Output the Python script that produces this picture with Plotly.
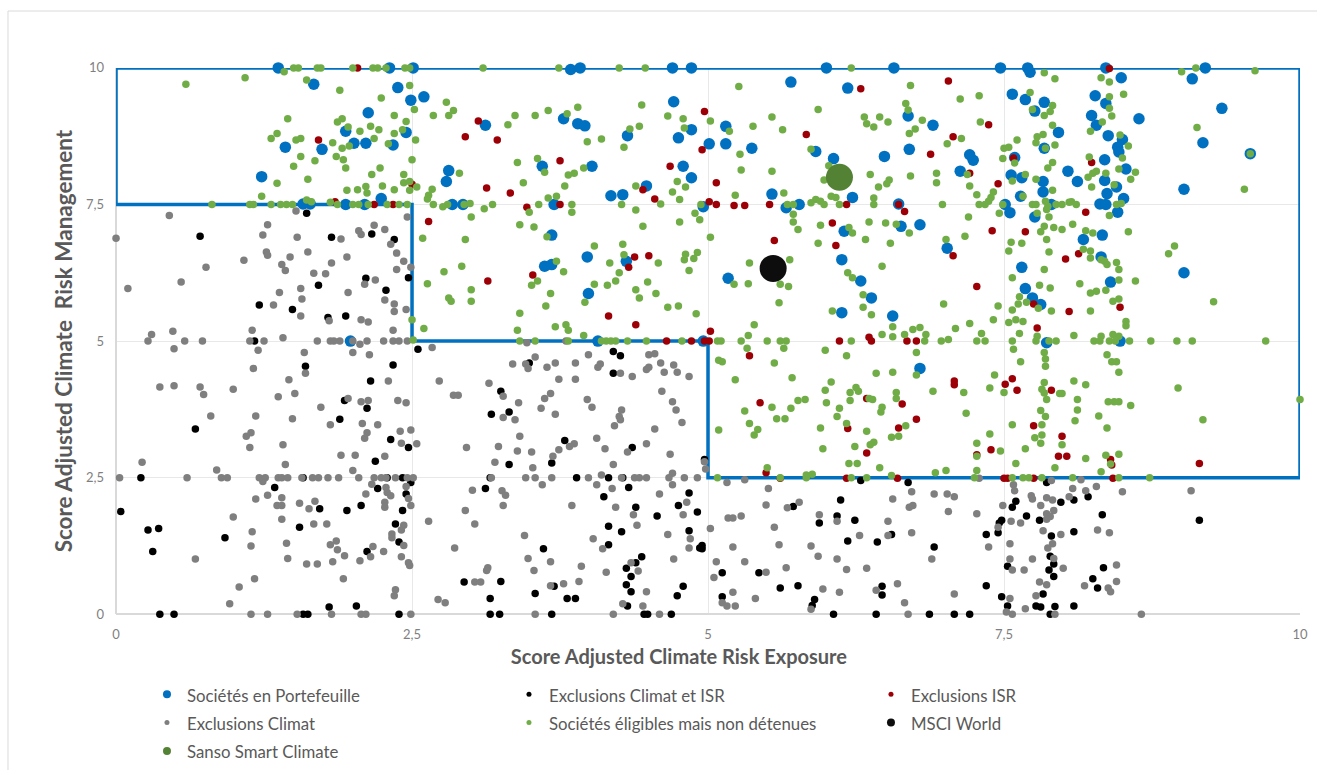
import plotly.graph_objects as go

X_TICKS = [0, 2.5, 5, 7.5, 10]
X_LABELS = ["0", "2,5", "5", "7,5", "10"]
Y_TICKS = [0, 2.5, 5, 7.5, 10]
Y_LABELS = ["0", "2,5", "5", "7,5", "10"]
FRAME_X = [0, 0, 10, 10, 5, 5, 2.5, 2.5, 0]
FRAME_Y = [7.5, 10, 10, 2.5, 2.5, 5, 5, 7.5, 7.5]

PORTEFEUILLE = [
(1.37,10),(3.84,9.97),(3.92,10),(2.31,10),(2.51,10),(4.70,10),(4.86,10),(1.67,9.70),(2.38,9.64),(2.60,9.47),(2.49,9.41),(2.13,9.18),(4.71,9.38),(3.78,9.07),(3.90,8.98),(3.96,8.94),(3.12,8.95),(4.86,8.87),(4.75,8.72),(4.32,8.76),(1.94,8.84),(2.45,8.82),(1.43,8.55),(1.74,8.51),(2.01,8.62),(2.11,8.62),(2.34,8.59),(3.60,8.20),(4.02,8.20),(4.79,8.20),(4.86,7.99),(1.23,8.01),(2.81,8.12),(2.79,7.92),(4.48,7.84),(4.18,7.66),(4.28,7.68),(2.24,7.61),(1.58,7.51),(1.64,7.51),(1.94,7.5),(2.10,7.5),(2.84,7.5),(2.93,7.5),(3.70,7.5),(3.68,6.94),(3.98,6.54),(3.62,6.37),(3.68,6.40),(4.31,6.46),(3.99,5.87),(1.98,5.0),(4.07,5.0),
(6.0,10),(6.57,10),(7.47,10),(7.70,10),(7.72,9.92),(8.36,10),(9.20,10),(5.70,9.74),(6.18,9.63),(8.49,9.82),(9.09,9.80),(7.57,9.52),(7.68,9.42),(7.84,9.37),(7.76,9.21),(8.27,9.49),(8.36,9.35),(8.24,9.13),(8.28,8.95),(9.34,9.26),(8.64,9.07),(7.96,8.82),(8.38,8.76),(8.50,8.69),(8.46,8.55),(8.47,8.46),(9.18,8.63),(7.84,8.53),(9.58,8.43),(5.15,8.93),(5.01,8.61),(5.15,8.61),(5.37,8.53),(5.91,8.47),(6.06,8.34),(6.49,8.38),(6.70,8.51),(6.69,9.12),(6.90,8.95),(7.21,8.41),(7.24,8.31),(7.13,8.11),(7.59,8.36),(8.35,8.32),(8.04,8.11),(8.12,7.92),(8.53,8.15),(8.35,7.94),(8.45,7.82),(8.37,7.70),(8.51,7.61),(8.31,7.51),(8.36,7.5),(8.46,7.36),(7.56,8.04),(7.65,7.99),(7.83,7.92),(7.83,7.73),(7.64,7.65),(7.90,7.5),(7.51,7.5),(7.55,7.35),(7.76,7.27),(5.54,7.69),(5.66,7.44),(5.77,7.5),(6.22,7.63),(6.61,7.51),(6.63,7.1),(6.79,7.13),(6.15,7.01),(9.02,7.78),(8.33,6.94),(8.17,6.86),(7.02,6.70),(8.32,6.54),(6.13,6.49),(5.17,6.15),(7.65,6.35),(9.02,6.25),(6.29,6.10),(8.40,6.08),(6.38,5.79),(7.68,5.96),(7.74,5.79),(7.81,5.67),(6.13,5.52),(6.56,5.46),(4.96,5.0),(7.86,4.97),(8.48,5.0),(6.79,4.50),(4.96,7.46),
]

CLIMAT_ISR = [
(1.61,7.34),(0.71,6.92),(1.82,6.90),(2.16,6.96),(2.35,6.86),(2.47,6.16),(2.11,6.15),(1.71,6.02),(2.28,5.93),(1.21,5.66),(1.49,5.58),(1.79,5.43),(1.94,5.46),(1.17,5.0),
(2.55,4.85),(4.20,4.81),(4.26,4.73),(1.60,4.54),(2.34,4.56),(4.20,4.41),(3.49,4.60),(2.15,4.27),(3.25,4.08),(1.93,3.91),(2.12,3.77),(3.32,3.70),(3.17,3.66),(1.89,3.57),(0.67,3.39),(2.32,3.20),(3.79,3.18),(2.47,3.05),(4.36,3.05),(2.19,2.80),(3.32,2.74),(3.68,2.77),
(0.21,2.5),(1.58,2.5),(2.29,2.5),(2.42,2.5),(3.16,2.5),(3.89,2.5),(4.16,2.5),(4.28,2.5),
(2.49,2.41),(1.34,2.32),(2.21,2.30),(3.12,2.30),(4.33,2.32),(2.45,2.20),(4.12,2.15),(4.84,2.22),(2.07,1.99),(4.39,1.96),(4.75,1.99),(0.04,1.88),(1.72,1.93),(1.95,1.90),(2.42,1.90),(4.91,1.87),(4.57,1.80),(2.36,1.65),(1.55,1.59),(4.16,1.61),(4.27,1.51),(0.27,1.54),(0.36,1.57),(4.84,1.53),(0.92,1.40),(2.39,1.32),(4.16,1.27),(0.31,1.15),(2.12,1.15),(3.61,1.20),(4.93,1.21),(4.44,1.05),(4.39,0.94),(4.31,0.84),(4.35,0.69),(3.25,0.60),(2.94,0.59),(4.31,0.54),(3.70,0.51),(4.35,0.41),(4.79,0.51),(3.54,0.38),(4.74,0.34),(3.16,0.29),(3.81,0.29),(3.88,0.29),(2.03,0.15),(1.80,0.13),(4.32,0.15),
(0.37,0),(0.49,0),(1.58,0),(1.62,0),(2.39,0),(3.16,0),(3.24,0),(3.68,0),(4.46,0),(4.49,0),(4.69,0),
(6.69,2.41),(6.29,2.45),(7.86,2.41),(6.12,2.09),(7.60,2.07),(7.57,1.96),(7.98,2.05),(8.09,2.09),(8.21,2.15),(5.72,1.97),(6.09,1.80),(5.94,1.67),(6.24,1.72),(7.69,1.80),(7.48,1.72),(7.46,1.67),(7.80,1.72),(8.33,1.82),(9.15,1.72),(6.55,1.46),(8.09,1.51),(7.35,1.46),(7.45,1.49),(7.90,1.43),(6.18,1.34),(6.43,1.32),(6.91,1.23),(4.95,1.26),(4.95,1.2),(7.89,1.06),(7.92,0.92),(7.53,0.88),(7.88,0.81),(8.34,0.85),(5.12,0.76),(5.43,0.76),(7.92,0.69),(8.25,0.65),(5.61,0.48),(5.76,0.52),(6.47,0.51),(7.35,0.52),(8.29,0.48),(6.47,0.35),(7.83,0.37),(5.12,0.32),(5.90,0.27),(7.48,0.32),(5.88,0.16),(7.53,0.15),(7.77,0.15),(7.81,0.13),(7.93,0.14),(8.09,0.15),(6.06,0),(6.42,0),(6.87,0),(7.08,0),(7.21,0),(7.89,0),(4.97,2.83),
]

ISR = [
(2.04,10),(3.06,9.03),(2.95,8.74),(3.22,8.68),(1.71,8.68),(3.75,8.30),(4.68,8.20),(3.13,7.80),(3.33,7.71),(2.50,7.87),(4.45,7.77),(4.55,7.60),(3.47,7.45),(3.75,7.5),(1.85,7.55),(2.18,7.5),(2.34,7.5),(2.64,7.19),(4.38,6.54),(4.50,6.56),(4.33,6.35),(3.52,6.21),(3.14,6.10),(4.16,5.46),(4.39,5.30),(4.65,5.0),(4.86,5.0),(4.95,8.5),(4.97,9.2),
(7.03,9.76),(6.29,9.62),(7.37,8.96),(5.83,8.78),(7.07,8.74),(6.88,8.42),(7.21,8.07),(7.58,8.35),(8.24,8.27),(5.07,7.90),(7.45,7.88),(5.01,7.55),(5.07,7.5),(5.22,7.48),(5.31,7.48),(5.52,7.5),(6.17,7.5),(6.61,7.5),(6.66,7.37),(8.19,7.36),(6.05,7.16),(7.40,7.02),(7.68,7.0),(5.56,6.84),(6.08,6.75),(7.07,6.56),(8.13,6.6),(8.02,6.50),(7.27,6.0),(7.75,5.68),(8.05,5.54),(8.48,5.62),(7.78,5.24),(5.02,5.18),(4.97,5.0),(5.01,5),(6.11,5.0),(6.36,5.07),(6.38,5.0),(6.68,5.0),(6.76,5.0),(8.39,9.99),
(5.35,4.73),(5.44,3.87),(6.34,3.95),(6.64,3.85),(6.76,3.57),(6.61,3.41),(6.18,3.40),(7.08,4.27),(7.08,4.20),(7.57,4.31),(7.51,4.21),(7.61,4.10),(7.90,4.10),(7.75,3.45),(7.99,3.26),(7.39,3.01),(7.27,2.92),(6.34,2.95),(7.96,2.89),(8.03,2.89),(8.40,2.83),(8.41,2.73),(9.15,2.76),(5.49,2.59),(5.61,2.49),(6.17,2.49),(6.60,2.49),(7.50,2.49),(7.53,2.49),(7.75,2.49),(8.42,2.49),
]

CLIMAT = [
(0.45,7.30),(0,6.88),(1.52,7.38),(1.28,7.13),(1.24,6.94),(1.53,6.90),(1.90,6.87),(2.05,7.02),(2.07,6.95),(2.18,7.12),(2.27,7.04),(2.46,7.27),(2.32,6.77),(1.27,6.63),(1.28,6.57),(1.62,6.63),(1.47,6.54),(1.08,6.48),(0.76,6.35),(1.82,6.43),(1.95,6.54),(2.37,6.61),(2.43,6.46),(2.49,6.35),(2.37,6.31),(1.40,6.40),(1.43,6.29),(1.67,6.24),(1.77,6.23),(0.55,6.08),(2.19,6.12),(0.10,5.96),(2.10,6.04),(1.56,5.96),(1.38,5.89),(1.96,5.89),(1.57,5.77),(2.27,5.75),(2.35,5.68),(1.33,5.66),(2.35,5.54),(2.45,5.58),(1.56,5.46),(1.80,5.37),(2.07,5.39),(2.13,5.35),(1.15,5.20),(2.34,5.20),(0.48,5.18),(0.30,5.12),(1.41,5.06),
(0.27,5),(0.58,5),(0.73,5),(1.13,5),(1.25,5),(1.70,5),(1.81,5),(1.84,5),(1.89,5),(2.0,5),(2.12,5),(2.26,5),(2.34,5),(2.39,5),(2.46,5),(2.06,4.94),(0.49,4.86),(2.67,4.88),(3.47,4.97),(3.80,5.0),
(1.20,4.83),(1.59,4.79),(2.0,4.79),(2.14,4.75),(1.16,4.50),(1.60,4.41),(1.46,4.29),(2.30,4.27),(0.37,4.16),(0.49,4.18),(0.71,4.16),(0.74,4.02),(0.99,4.12),(1.37,3.98),(1.51,4.04),(1.96,3.95),(2.07,3.89),(2.13,3.91),(2.38,3.91),(2.45,3.87),(1.73,3.79),(1.18,3.63),(0.80,3.63),(1.49,3.58),(1.81,3.47),(2.08,3.49),(2.21,3.47),(2.40,3.35),(2.49,3.37),(2.12,3.32),(2.10,3.22),(1.14,3.32),(1.10,3.26),(1.13,3.05),(1.41,3.10),(2.41,3.13),(2.54,3.12),(1.90,2.91),(2.02,2.91),(2.27,2.89),(0.22,2.78),(1.43,2.74),(0.85,2.64),(2.0,2.63),
(0.03,2.5),(0.60,2.5),(0.89,2.5),(0.94,2.5),(1.21,2.5),(1.26,2.5),(1.37,2.5),(1.40,2.5),(1.45,2.5),(1.57,2.5),(1.66,2.5),(1.71,2.5),(1.79,2.5),(1.88,2.5),(2.05,2.5),(2.18,2.5),(2.24,2.5),(2.28,2.5),(2.36,2.5),(2.46,2.5),(2.51,2.5),
(1.24,2.43),(2.16,2.38),(2.45,2.34),(2.28,2.32),(2.29,2.23),(2.32,2.17),(1.18,2.11),(1.28,2.18),(1.40,2.13),(2.11,2.20),(2.47,2.12),(2.49,1.99),(1.36,1.99),(1.40,1.99),(1.55,2.03),(1.68,2.07),(1.63,1.93),(2.27,2.05),(2.27,1.96),(0.99,1.78),(1.40,1.74),(1.67,1.65),(1.78,1.65),(2.43,1.63),(2.41,1.54),(2.64,1.70),(1.15,1.51),(2.33,1.47),(2.33,1.40),(1.44,1.30),(1.86,1.34),(1.81,1.27),(1.14,1.25),(2.43,1.26),(2.17,1.24),(1.87,1.18),(2.26,1.15),(1.93,1.07),(1.45,1.02),(2.15,1.05),(2.41,1.05),(0.67,1.01),(1.83,0.96),(2.06,0.98),(2.47,0.94),(2.48,0.89),(1.61,0.92),(1.70,0.92),(1.92,0.65),(1.17,0.65),(1.04,0.5),(2.36,0.45),(2.35,0.34),(0.96,0.19),
(1.14,0),(1.28,0),(1.53,0),(1.82,0),(2.07,0),(2.11,0),(2.49,0),
(3.54,4.71),(3.35,4.58),(3.46,4.58),(3.48,4.50),(3.64,4.52),(3.71,4.60),(3.88,4.60),(3.99,4.75),(4.07,4.52),(4.09,4.58),(4.26,4.41),(4.36,4.35),(4.50,4.75),(4.55,4.77),(4.60,4.60),(4.48,4.48),(4.50,4.52),(4.63,4.43),(4.71,4.56),(4.74,4.43),(4.84,4.35),(3.74,4.30),(3.88,4.30),(2.73,4.27),(3.15,4.23),(3.67,4.04),(3.62,3.95),(4.61,4.08),(2.85,4.01),(2.89,4.01),(3.27,3.99),(3.40,3.87),(3.98,3.93),(4.02,3.79),(3.59,3.77),(4.70,3.89),(4.73,3.74),(4.27,3.74),(3.71,3.66),(4.25,3.62),(3.27,3.60),(3.37,3.56),(4.26,3.56),(4.21,3.45),(4.78,3.51),(4.55,3.39),(3.41,3.26),(4.06,3.22),(2.96,3.05),(3.23,3.07),(3.87,3.12),(3.83,3.07),(3.74,3.01),(4.13,3.03),(4.48,3.12),(3.39,2.99),(3.51,2.97),(4.32,2.97),(4.68,2.93),(3.69,2.89),(3.20,2.78),(4.20,2.74),(3.52,2.68),(4.70,2.58),(4.10,2.55),
(3.17,2.5),(3.46,2.5),(3.54,2.5),(3.68,2.5),(3.99,2.5),(4.27,2.5),(4.38,2.5),(4.42,2.5),(4.48,2.5),(4.67,2.5),(4.80,2.5),(4.91,2.5),
(4.70,2.37),(3.60,2.37),(4.06,2.37),(4.19,2.30),(3.01,2.27),(3.26,2.26),(3.29,2.18),(4.59,2.20),(3.27,1.99),(3.85,1.99),(4.22,1.96),(4.82,2.05),(2.95,1.90),(4.37,1.82),(4.79,1.82),(3.03,1.65),(4.40,1.63),(3.45,1.44),(4.66,1.46),(4.03,1.38),(4.85,1.38),(2.86,1.21),(4.84,1.21),(4.11,1.20),(3.48,1.02),(3.67,0.96),(4.71,1.01),(4.35,0.94),(3.93,0.88),(3.14,0.85),(3.13,0.80),(3.53,0.80),(4.14,0.77),(4.41,0.79),(3.91,0.60),(3.03,0.59),(3.08,0.59),(3.78,0.56),(3.67,0.52),(4.48,0.41),(2.72,0.27),(2.78,0.21),(4.28,0.19),(4.45,0.15),(3.54,0),(4.20,0),(4.59,0),
(5.16,2.41),(5.31,2.46),(5.51,2.30),(5.49,2.0),(5.77,2.05),(5.67,1.95),(5.28,1.80),(5.17,1.76),(5.21,1.76),(5.94,1.82),(6.09,1.70),(6.52,1.70),(5.02,1.57),(5.56,1.59),(5.21,1.23),(5.60,1.27),(5.87,1.25),(5.93,1.06),(6.09,1.01),(5.07,0.96),(5.31,0.96),(5.66,0.85),(5.49,0.77),(6.17,0.82),(6.34,0.84),(5.05,0.67),(5.21,0.40),(5.40,0.29),(5.97,0.46),(6.11,0.40),(6.42,0.44),(6.60,0.56),(5.12,0.21),(5.16,0.15),(5.23,0.15),(5.87,0.09),(6.66,0.21),(6.69,0),(6.72,2.24),(6.91,2.2),(7.02,2.2),(7.08,2.15),(6.56,2.11),(6.70,1.96),(6.73,1.99),(7.03,1.88),(7.27,1.84),(6.28,1.44),(6.52,1.44),(6.72,1.49),(7.37,1.23),(6.89,1.01),(7.08,0.37),(7.49,1.99),(7.58,2.37),(7.59,2.26),(7.73,2.17),(7.74,2.11),(7.86,2.13),(7.81,1.99),(7.91,2.09),(7.92,1.90),(7.86,1.84),(7.89,1.79),(7.86,1.74),(8.05,2.15),(8.08,2.30),(8.19,2.26),(8.28,2.34),(8.15,2.46),(7.90,2.45),(7.29,2.49),(8.50,2.24),(9.08,2.26),(7.56,1.70),(7.64,1.67),(7.45,1.59),(7.83,1.53),(7.98,1.46),(8.29,1.54),(8.39,1.49),(7.55,1.29),(7.91,1.29),(7.87,1.21),(7.55,1.01),(7.74,1.01),(7.92,1.02),(8.45,0.90),(7.57,0.81),(7.67,0.81),(8.00,0.84),(7.80,0.59),(7.86,0.54),(8.45,0.60),(8.18,0.52),(8.38,0.48),(8.40,0.41),(7.77,0.34),(7.55,0.29),(7.68,0.10),(7.52,0.04),(7.57,0),(7.93,0),(8.66,0),(4.97,2.79),(4.98,2.66),
]

ELIGIBLES = [
(1.42,9.93),(1.50,10),(1.54,10),(1.70,10),(1.73,10),(2.0,10),(2.17,10),(2.21,10),(2.28,10),(2.44,10),(2.48,10),(3.10,10),(3.74,10),(4.25,10),(4.47,10),
(0.59,9.70),(1.09,9.82),(1.61,9.78),(2.48,9.68),(1.89,9.59),(2.24,9.45),(2.79,9.37),(2.52,9.24),(2.85,9.22),(2.81,9.13),(2.68,9.13),(2.35,9.13),(3.37,9.13),(3.54,9.13),(3.65,9.22),(3.81,9.16),(3.90,9.28),(4.44,9.32),(4.66,9.12),(4.79,9.07),(4.80,8.90),(1.45,9.07),(1.91,9.07),(1.87,9.01),(2.45,9.02),(3.31,8.96),(1.96,8.92),(2.15,8.93),(2.22,8.87),(2.06,8.84),(2.42,8.87),(2.35,8.80),(4.34,8.88),(4.42,8.93),(1.36,8.80),(1.31,8.71),(1.52,8.68),(1.56,8.71),(2.18,8.71),(2.53,8.68),(1.83,8.63),(1.97,8.57),(1.91,8.53),(2.30,8.61),(3.98,8.65),(4.10,8.70),(4.29,8.55),(1.56,8.38),(1.86,8.38),(1.92,8.32),(1.68,8.30),(2.50,8.32),(3.39,8.27),(3.56,8.34),(1.50,8.20),(1.94,8.17),(2.23,8.17),(3.62,8.09),(3.95,8.17),(3.87,8.07),(3.82,8.04),(2.16,8.05),(2.43,8.05),(2.90,8.07),(1.62,7.96),(1.36,7.89),(2.43,7.90),(2.48,7.92),(3.44,7.90),(4.74,7.92),(4.39,7.84),(4.81,7.82),(2.25,7.84),(2.11,7.83),(2.04,7.77),(1.95,7.76),(2.12,7.71),(2.35,7.77),(2.48,7.76),(2.67,7.78),(2.54,7.82),(2.64,7.67),(2.63,7.60),(3.79,7.84),(4.70,7.73),(1.23,7.65),(3.65,7.62),(3.72,7.65),(3.57,7.5),(3.85,7.5),(4.27,7.5),(4.76,7.59),(4.60,7.51),(4.94,7.5),(0.81,7.5),(1.13,7.5),(1.16,7.5),(1.31,7.5),(1.39,7.5),(1.44,7.5),(1.49,7.5),(1.61,7.58),(1.65,7.55),(1.81,7.54),(1.87,7.5),(2.0,7.5),(2.05,7.5),(2.13,7.5),(2.29,7.5),(2.39,7.5),(2.46,7.5),(2.68,7.5),(2.76,7.46),(2.80,7.5),(2.94,7.5),(2.99,7.52),(3.18,7.5),(3.11,7.42),(3.49,7.36),(4.39,7.40),(3.85,7.36),(3.0,7.27),(4.89,7.34),(4.76,7.18),(3.41,7.13),(3.53,7.09),(4.45,7.10),(2.59,6.88),(2.95,6.86),(3.64,6.91),(4.04,6.74),(4.28,6.77),(4.29,6.58),(4.81,6.59),(4.80,6.49),(4.88,6.51),(4.91,6.62),(3.72,6.46),(4.17,6.43),(4.58,6.43),(2.92,6.37),(2.77,6.27),(3.78,6.27),(4.25,6.25),(4.84,6.29),(2.63,6.05),(3.56,6.10),(3.51,6.02),(4.22,6.10),(4.15,6.02),(4.04,6.04),(4.49,6.08),(3.0,5.94),(3.67,5.87),(4.39,5.94),(4.56,5.87),(2.81,5.79),(2.83,5.73),(3.0,5.73),(4.42,5.79),(3.96,5.71),(3.63,5.64),(4.66,5.62),(4.75,5.64),(4.90,5.50),(3.41,5.51),(3.39,5.20),(2.60,5.23),(3.71,5.26),(3.80,5.30),(3.82,5.20),(3.95,5.10),(2.50,5.39),(2.51,5.02),(3.41,5),(3.54,5),(3.82,5),(4.10,5),(4.14,5),(4.18,5),(4.22,5),(4.32,5),(4.48,5),(4.78,5),
(6.21,10),(9.12,10),(9.62,9.95),(9.0,9.93),(7.84,9.91),(7.93,9.8),(8.32,9.82),(8.39,9.74),(5.26,9.66),(6.71,9.68),(7.29,9.49),(7.13,9.43),(7.72,9.55),(8.39,9.47),(8.51,9.52),(6.67,9.35),(6.69,9.23),(5.93,9.24),(7.91,9.31),(7.74,9.24),(7.89,9.2),(7.84,9.13),(8.39,9.26),(8.41,9.12),(5.54,9.1),(5.02,9.03),(6.32,9.1),(6.45,9.1),(6.52,9.01),(6.34,8.98),(6.40,8.92),(6.81,9.04),(7.30,9.01),(8.33,9.01),(5.38,8.93),(5.18,8.84),(5.63,8.87),(6.75,8.88),(6.70,8.80),(9.13,8.91),(8.23,8.84),(7.91,8.95),(7.83,8.78),(7.78,8.74),(7.77,8.63),(7.61,8.68),(7.14,8.71),(7.02,8.61),(8.48,8.77),(8.55,8.57),(7.93,8.59),(7.54,8.55),(7.50,8.53),(5.87,8.51),(7.85,8.53),(9.58,8.43),(5.27,8.42),(7.49,8.34),(8.22,8.37),(8.50,8.35),(7.59,8.26),(7.91,8.27),(7.87,8.17),(5.28,8.13),(5.54,8.11),(6.02,8.21),(6.93,8.07),(6.37,8.05),(6.71,8.02),(8.47,8.15),(8.61,8.09),(8.36,8.07),(8.28,8.11),(8.25,8.07),(8.21,8.0),(7.19,8.05),(7.68,8.05),(7.77,7.96),(7.57,7.93),(8.57,7.96),(6.53,7.95),(6.51,7.88),(6.44,7.82),(5.98,7.95),(6.93,7.9),(7.21,7.84),(8.24,7.82),(8.43,7.86),(9.53,7.78),(7.91,7.76),(7.66,7.65),(5.64,7.71),(5.23,7.67),(7.41,7.73),(7.39,7.63),(7.27,7.68),(6.04,7.65),(6.08,7.63),(6.40,7.62),(7.37,7.56),(5.91,7.59),(5.87,7.53),(5.95,7.56),(5.98,7.5),(6.11,7.5),(6.40,7.5),(6.98,7.5),(7.29,7.5),(7.34,7.5),(7.49,7.5),(7.74,7.5),(7.77,7.5),(7.85,7.56),(7.87,7.47),(7.86,7.41),(7.94,7.5),(7.99,7.5),(8.05,7.54),(8.07,7.55),(8.11,7.5),(8.45,7.5),(8.49,7.52),(5.67,7.5),(5.72,7.5),(5.72,7.32),(5.72,7.18),(5.76,7.04),(4.93,7.22),(7.46,7.34),(7.20,7.27),(8.39,7.30),(7.78,7.34),(7.88,7.27),(6.36,7.18),(6.50,7.16),(6.59,7.14),(5.95,7.12),(6.19,7.08),(7.84,7.10),(7.92,7.08),(8.08,7.14),(7.99,7.04),(7.81,7.0),(6.70,6.98),(6.22,6.98),(8.19,7.02),(8.25,6.98),(8.55,7.0),(7.17,6.92),(5.02,6.90),(6.33,6.86),(7.01,6.86),(7.86,6.86),(7.56,6.81),(7.65,6.79),(5.93,6.79),(6.54,6.79),(8.94,6.74),(7.54,6.65),(7.88,6.63),(8.17,6.68),(8.23,6.65),(8.89,6.6),(8.23,6.52),(8.32,6.49),(8.35,6.46),(8.45,6.44),(8.37,6.4),(5.69,6.49),(5.35,6.43),(6.47,6.37),(8.47,6.31),(7.84,6.31),(6.18,6.25),(6.22,6.16),(7.57,6.16),(8.47,6.12),(8.61,6.10),(8.14,6.05),(5.34,6.05),(5.22,6.04),(5.61,6.04),(5.68,6.0),(7.80,6.02),(7.89,5.97),(8.23,5.88),(8.28,5.91),(8.36,5.93),(6.31,5.85),(7.63,5.81),(8.47,5.77),(8.42,5.73),(5.6,5.70),(6.99,5.68),(9.27,5.72),(7.45,5.64),(7.62,5.68),(7.69,5.71),(7.57,5.57),(7.79,5.6),(6.31,5.62),(6.05,5.55),(7.90,5.55),(8.23,5.55),(6.38,5.48),(7.41,5.39),(7.54,5.34),(7.60,5.39),(7.66,5.36),(8.53,5.36),(8.53,5.28),(5.39,5.30),(7.21,5.32),(6.56,5.26),(6.79,5.25),(6.73,5.21),(7.09,5.23),(5.34,5.10),(6.47,5.12),(6.56,5.08),(6.66,5.12),(6.84,5.12),(7.31,5.14),(7.63,5.14),(7.78,5.09),(8.09,5.10),(8.32,5.09),(8.42,5.12),(8.47,5.09),(7.03,5.03),
(5.08,5),(5.11,5),(5.28,5),(5.50,5),(5.61,5),(5.66,5),(6.21,5),(6.83,5),(6.97,5),(7.27,5),(7.34,5),(7.57,5),(7.77,5),(7.88,5),(7.94,5),(8.26,5),(8.31,5),(8.39,5),(8.44,5),(8.56,5),(8.74,5),(8.96,5),(9.09,5),(9.71,5),
(5.33,4.87),(5.64,4.87),(5.99,4.83),(6.76,4.79),(6.17,4.73),(7.58,4.85),(7.84,4.79),(8.37,4.75),(5.09,4.65),(5.12,4.62),(5.56,4.60),(7.64,4.62),(7.85,4.67),(8.41,4.62),(8.45,4.62),(7.85,4.54),(6.42,4.41),(6.56,4.43),(8.47,4.43),(7.42,4.38),(6.76,4.38),(5.23,4.29),(5.71,4.33),(6.04,4.25),(7.84,4.24),(8.09,4.27),(8.19,4.20),(5.99,4.10),(6.25,4.15),(6.20,4.06),(6.27,4.08),(6.59,4.06),(6.90,4.08),(7.16,4.06),(7.38,4.14),(7.50,4.06),(7.82,4.12),(7.84,4.05),(7.97,4.04),(7.99,4.04),(8.97,4.14),(6.20,3.91),(6.0,3.87),(6.36,3.95),(6.39,3.93),(6.59,3.95),(7.86,3.93),(8.12,3.93),(8.38,3.89),(8.43,3.89),(8.47,3.89),(8.57,3.82),(10.0,3.93),(5.54,3.79),(5.76,3.91),(5.82,3.93),(5.70,3.77),(6.11,3.77),(6.47,3.79),(6.46,3.70),(5.31,3.72),(7.18,3.68),(7.81,3.73),(8.12,3.74),(6.09,3.62),(5.58,3.58),(5.65,3.58),(7.85,3.62),(8.30,3.63),(8.10,3.54),(9.18,3.56),(5.35,3.49),(6.17,3.49),(7.57,3.47),(7.82,3.47),(6.67,3.45),(5.09,3.37),(5.95,3.41),(5.42,3.38),(5.39,3.28),(6.34,3.35),(8.37,3.41),(7.38,3.30),(7.76,3.23),(7.82,3.28),(6.55,3.24),(6.61,3.26),(6.40,3.15),(6.37,3.10),(7.27,3.13),(7.81,3.13),(7.99,3.10),(6.24,3.07),(5.97,3.03),(7.68,3.03),(7.47,2.99),(7.27,2.89),(8.36,2.91),(8.47,2.93),(8.19,2.85),(6.19,2.76),(6.26,2.76),(7.60,2.76),(8.40,2.75),(5.50,2.68),(6.45,2.68),(7.01,2.63),(7.27,2.63),(7.93,2.68),(6.92,2.59),(8.32,2.61),(5.88,2.56),(5.83,2.55),(6.55,2.54),
(5.08,2.5),(5.61,2.5),(5.83,2.5),(6.21,2.5),(6.34,2.5),(7.25,2.5),(7.57,2.5),(7.66,2.5),(7.71,2.5),(7.82,2.5),(8.08,2.5),(8.47,2.5),(8.73,2.5),
]

MSCI_WORLD = [(5.55, 6.33)]
SANSO = [(6.11, 8.0)]

SERIES = [
    ("Sociétés en Portefeuille", PORTEFEUILLE, "#0070C0", 11.5, 8),
    ("Exclusions Climat et ISR", CLIMAT_ISR, "#000000", 7.5, 5),
    ("Exclusions ISR", ISR, "#9C0006", 7.5, 5),
    ("Exclusions Climat", CLIMAT, "#7F7F7F", 7.5, 5),
    ("Sociétés éligibles mais non détenues", ELIGIBLES, "#70AD47", 7.5, 5),
    ("MSCI World", MSCI_WORLD, "#0D0D0D", 27, 8),
    ("Sanso Smart Climate", SANSO, "#548235", 27, 8),
]

fig = go.Figure()
fig.add_trace(go.Scatter(x=FRAME_X, y=FRAME_Y, mode="lines",
                         line=dict(color="#0070C0", width=3.5), showlegend=False,
                         hoverinfo="skip", cliponaxis=False))
for name, pts, color, size, _ in SERIES:
    fig.add_trace(go.Scatter(x=[p[0] for p in pts], y=[p[1] for p in pts], mode="markers",
                             name=name, showlegend=False, cliponaxis=False,
                             marker=dict(color=color, size=size, line=dict(width=0))))
for name, pts, color, _, lsize in SERIES:
    fig.add_trace(go.Scatter(x=[None], y=[None], mode="markers",
                             name=f'<span style="font-size:16.8px">{name}</span>',
                             marker=dict(color=color, size=lsize, line=dict(width=0))))

FONT = "Lato"
axis = dict(range=[0, 10], showgrid=True, gridcolor="#E8E8E8", gridwidth=1, automargin=False,
            zeroline=True, zerolinecolor="#D9D9D9", zerolinewidth=2,
            showline=False, ticks="", tickfont=dict(family=FONT, size=13, color="#7F7F7F"))
NB = "\u00a0"
fig.update_layout(
    width=1317, height=771, autosize=False,
    margin=dict(l=0, r=0, t=0, b=0),
    paper_bgcolor="white", plot_bgcolor="white",
    font=dict(family=FONT, color="#595959"),
    xaxis=dict(axis, domain=[0.0881, 0.9871], tickvals=X_TICKS, ticktext=X_LABELS, ticklabelstandoff=11,
               title=dict(text="<b>Score Adjusted Climate Risk Exposure" + NB * 12 + "</b>",
                          font=dict(family=FONT, size=20, color="#595959"), standoff=8)),
    yaxis=dict(axis, domain=[0.2023, 0.9118], tickvals=Y_TICKS, ticktext=Y_LABELS, ticklabelstandoff=11,
               title=dict(text="<b>Score Adjusted Climate  Risk Management</b>",
                          font=dict(family=FONT, size=22.5, color="#595959"), standoff=7)),
    legend=dict(orientation="h", x=0.1116, xanchor="left", y=0.1232, yanchor="top",
                entrywidth=317, entrywidthmode="pixels", traceorder="normal",
                font=dict(family=FONT, size=19.5, color="#595959"),
                bgcolor="rgba(0,0,0,0)"),
    shapes=[
        dict(type="line", xref="paper", yref="paper", x0=0.00607, x1=1, y0=0.9857, y1=0.9857,
             line=dict(color="#DADADA", width=1)),
        dict(type="line", xref="paper", yref="paper", x0=0.00607, x1=0.00607, y0=0, y1=0.9857,
             line=dict(color="#DADADA", width=1)),
    ],
)
fig.write_html("out.html", post_script="document.body.style.margin='0';document.body.style.overflow='hidden';",
               config={"displayModeBar": False})
